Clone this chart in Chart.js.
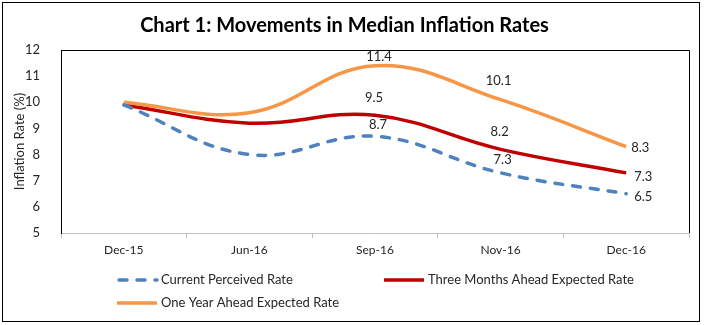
<!DOCTYPE html>
<html>
<head>
<meta charset="utf-8">
<script src="https://cdn.jsdelivr.net/npm/chart.js@4.4.0/dist/chart.umd.min.js"></script>
<style>
    html, body { margin: 0; padding: 0; background: #fff; }
    #wrap { width: 704px; height: 325px; }
</style>
</head>
<body>
<div id="wrap"><canvas id="chartInflacao"></canvas></div>
<script>
// Median inflation rates (%) by survey round
const periodos = ['Dec-15', 'Jun-16', 'Sep-16', 'Nov-16', 'Dec-16'];
const taxaAtual = [9.9, 8.0, 8.7, 7.3, 6.5];
const taxaTresMeses = [9.9, 9.2, 9.5, 8.2, 7.3];
const taxaUmAno = [10.0, 9.6, 11.4, 10.1, 8.3];
const seriesNomes = ['Current Perceived Rate', 'Three Months Ahead Expected Rate', 'One Year Ahead Expected Rate'];
const eixoY = { min: 5, max: 12, passo: 1 };

const fonte = 'Lato, "Open Sans", sans-serif';
const corTexto = '#262626';

// value labels only for the last three rounds; offsets per series (dx, dy)
const rotuloDesloc = [
    { 2: [3, -11], 3: [2, -13], 4: [17, 3] },
    { 2: [-1, -18], 3: [-1, -18], 4: [17, 4] },
    { 2: [4, -9], 3: [-2, -19], 4: [14, 1] }
];

const molduraPlugin = {
    id: 'moldura',
    beforeDraw(chart) {
        const ctx = chart.ctx;
        ctx.save();
        ctx.fillStyle = '#fff';
        ctx.fillRect(0, 0, chart.width, chart.height);
        ctx.strokeStyle = '#000';
        ctx.lineWidth = 1;
        ctx.strokeRect(2.5, 2.5, 697, 319);
        ctx.restore();
    },
    beforeDatasetsDraw(chart) {
        // top and right edges of the plot box
        const a = chart.chartArea;
        const ctx = chart.ctx;
        ctx.save();
        ctx.strokeStyle = '#000';
        ctx.lineWidth = 1;
        ctx.beginPath();
        ctx.moveTo(Math.round(a.left) + 0.5, Math.round(a.top) + 0.5);
        ctx.lineTo(Math.round(a.right) + 0.5, Math.round(a.top) + 0.5);
        ctx.lineTo(Math.round(a.right) + 0.5, Math.round(a.bottom));
        ctx.stroke();
        ctx.restore();
    }
};

const rotulosPlugin = {
    id: 'rotulos',
    afterDatasetsDraw(chart) {
        const ctx = chart.ctx;
        ctx.save();
        ctx.font = '13px ' + fonte;
        ctx.fillStyle = corTexto;
        ctx.textAlign = 'center';
        ctx.textBaseline = 'middle';
        chart.data.datasets.forEach((ds, i) => {
            const meta = chart.getDatasetMeta(i);
            meta.data.forEach((pt, j) => {
                const d = rotuloDesloc[i][j];
                if (!d) return;
                ctx.fillText(ds.data[j].toFixed(1), pt.x + d[0], pt.y + d[1]);
            });
        });
        ctx.restore();
    }
};

// legend in two columns, like the original layout
const legendaPlugin = {
    id: 'legendaFixa',
    afterDraw(chart) {
        const ctx = chart.ctx;
        const posicoes = [[117, 280], [384, 280], [117, 303]];
        ctx.save();
        ctx.font = '13px ' + fonte;
        ctx.fillStyle = corTexto;
        ctx.textBaseline = 'middle';
        chart.data.datasets.forEach((ds, i) => {
            const [x, y] = posicoes[i];
            ctx.strokeStyle = ds.borderColor;
            ctx.lineWidth = ds.borderWidth;
            ctx.lineCap = ds.borderDash ? 'round' : 'butt';
            ctx.setLineDash(ds.borderDash || []);
            ctx.beginPath();
            ctx.moveTo(x + (ds.borderDash ? 2 : 0), y);
            ctx.lineTo(x + 40, y);
            ctx.stroke();
            ctx.setLineDash([]);
            ctx.fillText(ds.label, x + 44, y);
        });
        ctx.restore();
    }
};

const config = {
    type: 'line',
    data: {
        labels: periodos,
        datasets: [
            {
                label: seriesNomes[0],
                data: taxaAtual,
                borderColor: '#4F81BD',
                borderWidth: 3.5,
                borderDash: [8, 10],
                borderCapStyle: 'round',
                tension: 0.4,
                pointRadius: 0,
                order: 0
            },
            {
                label: seriesNomes[1],
                data: taxaTresMeses,
                borderColor: '#C00000',
                borderWidth: 3.5,
                tension: 0.4,
                pointRadius: 0,
                order: 2
            },
            {
                label: seriesNomes[2],
                data: taxaUmAno,
                borderColor: '#F79646',
                borderWidth: 3.5,
                tension: 0.4,
                pointRadius: 0,
                order: 1
            }
        ]
    },
    options: {
        responsive: false,
        animation: false,
        devicePixelRatio: 1,
        layout: { padding: { left: 0, right: 15, top: 0, bottom: 0 } },
        plugins: {
            legend: { display: false },
            tooltip: { enabled: false },
            title: {
                display: true,
                text: 'Chart 1: Movements in Median Inflation Rates',
                color: '#000',
                font: { family: fonte, size: 20, weight: 'bold' },
                padding: { top: 14, bottom: 12 }
            }
        },
        scales: {
            x: {
                offset: true,
                grid: { display: true, offset: true, drawOnChartArea: false, tickLength: 5, color: '#BFBFBF' },
                border: { display: true, color: '#BFBFBF' },
                ticks: { color: corTexto, font: { family: fonte, size: 12 }, padding: 5, maxRotation: 0 },
                afterFit(scale) { scale.height = 92; }
            },
            y: {
                min: eixoY.min,
                max: eixoY.max,
                grid: { display: false },
                border: { display: true, color: '#000' },
                ticks: { stepSize: eixoY.passo, color: corTexto, font: { family: fonte, size: 13 }, padding: 13 },
                title: {
                    display: true,
                    text: 'Inflation Rate (%)',
                    color: corTexto,
                    font: { family: fonte, size: 13 },
                    padding: { top: 12, bottom: 0 }
                },
                afterFit(scale) { scale.width = 61; }
            }
        }
    },
    plugins: [molduraPlugin, rotulosPlugin, legendaPlugin]
};

const canvas = document.getElementById('chartInflacao');
canvas.width = 704;
canvas.height = 325;
const grafico = new Chart(canvas, config);
</script>
</body>
</html>
